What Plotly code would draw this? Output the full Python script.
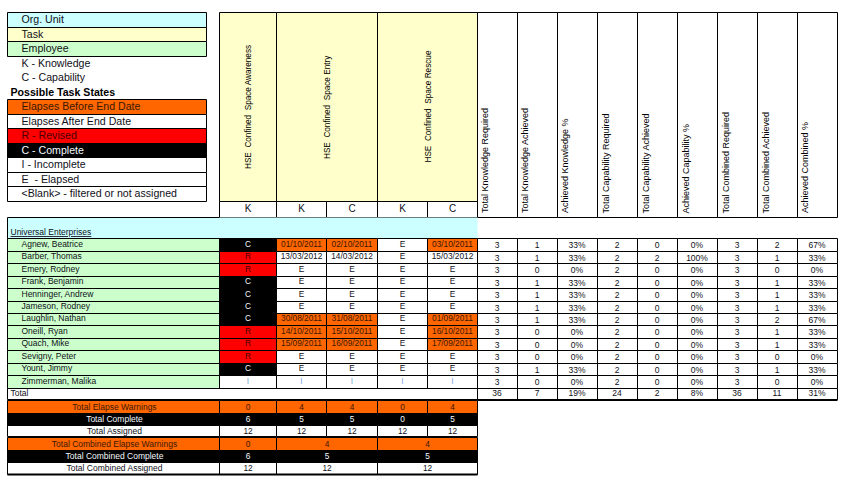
import plotly.graph_objects as go

# ---------- data ----------
org_unit = "Universal Enterprises"
employees = ["Agnew, Beatrice", "Barber, Thomas", "Emery, Rodney", "Frank, Benjamin", "Henninger, Andrew",
             "Jameson, Rodney", "Laughlin, Nathan", "Oneill, Ryan", "Quach, Mike", "Sevigny, Peter",
             "Yount, Jimmy", "Zimmerman, Malika"]
tasks = ["HSE  Confined  Space Awareness", "HSE  Confined  Space Entry", "HSE  Confined  Space Rescue"]
sub_headers = ["K", "K", "C", "K", "C"]
awareness_k = ["C", "R", "R", "C", "C", "C", "C", "R", "R", "R", "C", "I"]
entry_k = ["01/10/2011", "13/03/2012", "E", "E", "E", "E", "30/08/2011", "14/10/2011", "15/09/2011", "E", "E", "I"]
entry_c = ["02/10/2011", "14/03/2012", "E", "E", "E", "E", "31/08/2011", "15/10/2011", "16/09/2011", "E", "E", "I"]
rescue_k = ["E", "E", "E", "E", "E", "E", "E", "E", "E", "E", "E", "I"]
rescue_c = ["03/10/2011", "15/03/2012", "E", "E", "E", "E", "01/09/2011", "16/10/2011", "17/09/2011", "E", "E", "I"]
date_warning_employees = ["Agnew, Beatrice", "Laughlin, Nathan", "Oneill, Ryan", "Quach, Mike"]

metric_headers = ["Total Knowledge Required", "Total Knowledge Achieved", "Achieved Knowledge %",
                  "Total Capability Required", "Total Capability Achieved", "Achieved Capability %",
                  "Total Combined Required", "Total Combined Achieved", "Achieved Combined %"]
know_req = [3] * 12
know_ach = [1, 1, 0, 1, 1, 1, 1, 0, 0, 0, 1, 0]
know_pct = ["33%", "33%", "0%", "33%", "33%", "33%", "33%", "0%", "0%", "0%", "33%", "0%"]
cap_req = [2] * 12
cap_ach = [0, 2, 0, 0, 0, 0, 0, 0, 0, 0, 0, 0]
cap_pct = ["0%", "100%", "0%", "0%", "0%", "0%", "0%", "0%", "0%", "0%", "0%", "0%"]
comb_req = [3] * 12
comb_ach = [2, 1, 0, 1, 1, 1, 2, 1, 1, 0, 1, 0]
comb_pct = ["67%", "33%", "0%", "33%", "33%", "33%", "67%", "33%", "33%", "0%", "33%", "0%"]
metric_totals = [36, 7, "19%", 24, 2, "8%", 36, 11, "31%"]

summary_labels = ["Total Elapse Warnings", "Total Complete", "Total Assigned"]
elapse_warnings = [0, 4, 4, 0, 4]
total_complete = [6, 5, 5, 0, 5]
total_assigned = [12, 12, 12, 12, 12]
combined_labels = ["Total Combined Elapse Warnings", "Total Combined Complete", "Total Combined Assigned"]
combined_warnings = [0, 4, 4]
combined_complete = [6, 5, 5]
combined_assigned = [12, 12, 12]

legend_top = ["Org. Unit", "Task", "Employee"]
legend_codes = ["K - Knowledge", "C - Capability"]
legend_title = "Possible Task States"
legend_states = ["Elapses Before End Date", "Elapses After End Date", "R - Revised", "C - Complete",
                 "I - Incomplete", "E  - Elapsed", "<Blank> - filtered or not assigned"]

# ---------- page grid and colours ----------
CYAN, YELLOW, GREEN, ORANGE, RED, BLACK, WHITE = "#CCFFFF", "#FFFFCC", "#CCFFCC", "#FF6600", "#FF0000", "#000000", "#FFFFFF"
ON_DARK = "#F4F8FF"
ON_RED = "#4A0000"
ON_ORANGE = "#3A1800"
INK = "#101018"

LEFT = 7.5
label_right = 219.5
task_cols = [219.5, 276.5, 326.5, 377.5, 427.5, 477.5]
metric_cols = [477.5, 517.5, 557.5, 597.5, 637.5, 677.5, 717.5, 757.5, 797.5, 837.5]
row_edges = [238.5, 251.5, 263.5, 276.5, 288.5, 301.5, 313.5, 325.5, 338.5, 350.5, 363.5, 375.5, 388.5]

shapes = []
groups = {}


def rect(x0, y0, x1, y1, fill=None, width=1.0, line=True):
    shapes.append(dict(type="rect", xref="x", yref="y", x0=x0, y0=y0, x1=x1, y1=y1,
                       fillcolor=fill if fill else "rgba(0,0,0,0)",
                       line=dict(color=BLACK, width=width if line else 0), layer="below"))


def label(x, y, s, size=8, color=INK, pos="middle center", bold=False, under=False):
    key = (size, color, pos, bold, under)
    g = groups.setdefault(key, dict(x=[], y=[], t=[]))
    g["x"].append(x)
    g["y"].append(y)
    g["t"].append(str(s))


# legend, first block
top_edges = [12.5, 27.5, 41.5, 56.5]
for i, (t, f) in enumerate(zip(legend_top, [CYAN, YELLOW, GREEN])):
    rect(LEFT, top_edges[i], 206.5, top_edges[i + 1], f)
    label(21.5, (top_edges[i] + top_edges[i + 1]) / 2 + 0.5, t, 10.6, pos="middle right")
for y, t in zip([64, 78], legend_codes):
    label(21.5, y, t, 10.6, pos="middle right")
label(10.5, 93, legend_title, 10.6, "#000000", "middle right", bold=True)

# legend, states block
state_edges = [99.5, 114.5, 128.5, 143.5, 157.5, 172.5, 186.5, 201.5]
state_fill = [ORANGE, WHITE, RED, BLACK, WHITE, WHITE, WHITE]
state_ink = [ON_ORANGE, INK, ON_RED, ON_DARK, INK, INK, INK]
for i, t in enumerate(legend_states):
    rect(LEFT, state_edges[i], 206.5, state_edges[i + 1], state_fill[i])
    label(21.5, (state_edges[i] + state_edges[i + 1]) / 2 + 0.5, t, 10.6, state_ink[i], "middle right")

# task headers
HEAD_TOP, HEAD_MID, HEAD_BOTTOM = 12.5, 201.5, 217.5
annotations = []
spans = [(0, 1), (1, 3), (3, 5)]
for (a, b), t in zip(spans, tasks):
    rect(task_cols[a], HEAD_TOP, task_cols[b], HEAD_MID, YELLOW)
    annotations.append(dict(x=(task_cols[a] + task_cols[b]) / 2, y=107, text=t, textangle=-90, showarrow=False,
                            xref="x", yref="y", font=dict(family="Liberation Sans", size=8.2, color="#000000")))
for i, t in enumerate(sub_headers):
    rect(task_cols[i], HEAD_MID, task_cols[i + 1], HEAD_BOTTOM, WHITE)
    label((task_cols[i] + task_cols[i + 1]) / 2, 209.5, t, 10, INK)

# metric headers
for i, t in enumerate(metric_headers):
    rect(metric_cols[i], HEAD_TOP, metric_cols[i + 1], HEAD_BOTTOM, WHITE)
    annotations.append(dict(x=metric_cols[i] + 7.5, y=215.5, text=t, textangle=-90, showarrow=False,
                            xanchor="center", yanchor="bottom", xref="x", yref="y",
                            font=dict(family="Liberation Sans", size=9, color="#000000")))

# organisation row
rect(LEFT, HEAD_BOTTOM, 477.5, row_edges[0], CYAN, line=False)
shapes.append(dict(type="line", xref="x", yref="y", x0=LEFT, x1=LEFT, y0=HEAD_BOTTOM, y1=row_edges[0],
                   line=dict(color=BLACK, width=1)))
shapes.append(dict(type="line", xref="x", yref="y", x0=LEFT, x1=219.5, y0=HEAD_BOTTOM, y1=HEAD_BOTTOM,
                   line=dict(color=BLACK, width=1)))
label(10.5, 233, org_unit, 8.5, INK, "middle right", under=True)

# employee rows
task_states = [awareness_k, entry_k, entry_c, rescue_k, rescue_c]
metrics = [know_req, know_ach, know_pct, cap_req, cap_ach, cap_pct, comb_req, comb_ach, comb_pct]
for r, name in enumerate(employees):
    y0, y1 = row_edges[r], row_edges[r + 1]
    ym = (y0 + y1) / 2 - 0.5
    rect(LEFT, y0, label_right, y1, GREEN)
    label(21.5, ym, name, 8.5, INK, "middle right")
    for c, col in enumerate(task_states):
        v = col[r]
        fill, ink = WHITE, INK
        if v == "C":
            fill, ink = BLACK, ON_DARK
        elif v == "R":
            fill, ink = RED, ON_RED
        elif v == "I":
            ink = "#7FA8DC"
        elif "/" in v and name in date_warning_employees:
            fill, ink = ORANGE, ON_ORANGE
        rect(task_cols[c], y0, task_cols[c + 1], y1, fill)
        label((task_cols[c] + task_cols[c + 1]) / 2, ym, v, 8.3, ink)
    for c, col in enumerate(metrics):
        rect(metric_cols[c], y0, metric_cols[c + 1], y1, WHITE)
        label((metric_cols[c] + metric_cols[c + 1]) / 2 - 0.5, ym + 1.5, col[r], 8.5, INK)

# total row
TOTAL_BOTTOM = 399.5
rect(LEFT, row_edges[-1], 477.5, TOTAL_BOTTOM, WHITE)
label(10.5, 393.5, "Total", 8.5, INK, "middle right")
for c, v in enumerate(metric_totals):
    rect(metric_cols[c], row_edges[-1], metric_cols[c + 1], TOTAL_BOTTOM, WHITE)
    label((metric_cols[c] + metric_cols[c + 1]) / 2 - 0.5, 393.5, v, 8.5, INK)
shapes.append(dict(type="line", xref="x", yref="y", x0=477.5, x1=837.5, y0=TOTAL_BOTTOM + 0.5, y1=TOTAL_BOTTOM + 0.5,
                   line=dict(color=BLACK, width=2)))


# summary blocks
def summary(edges, labels, value_rows, cols):
    fills = [ORANGE, BLACK, WHITE]
    inks = [ON_ORANGE, ON_DARK, INK]
    for i in range(3):
        y0, y1 = edges[i], edges[i + 1]
        ym = (y0 + y1) / 2 + 0.5
        rect(LEFT, y0, label_right, y1, fills[i])
        label((LEFT + label_right) / 2 + 1, ym, labels[i], 8.5, inks[i])
        for c, v in enumerate(value_rows[i]):
            rect(cols[c], y0, cols[c + 1], y1, fills[i])
            label((cols[c] + cols[c + 1]) / 2, ym, v, 8.3, inks[i])


summary([400.5, 413.5, 425.5, 436.5], summary_labels,
        [elapse_warnings, total_complete, total_assigned], task_cols)
summary([437.5, 450.5, 462.5, 474.5], combined_labels,
        [combined_warnings, combined_complete, combined_assigned], [219.5, 276.5, 377.5, 477.5])
shapes.append(dict(type="line", xref="x", yref="y", x0=LEFT, x1=477.5, y0=474.5, y1=474.5,
                   line=dict(color=BLACK, width=2)))

# ---------- figure ----------
fig = go.Figure()
for (size, color, pos, bold, under), g in groups.items():
    fig.add_trace(go.Scatter(
        x=g["x"], y=g["y"], text=g["t"], mode="text", textposition=pos, hoverinfo="skip", showlegend=False,
        textfont=dict(family="Liberation Sans", size=size, color=color, weight="bold" if bold else "normal",
                      lineposition="under" if under else "none")))
fig.update_layout(
    width=850, height=491, margin=dict(l=0, r=0, t=0, b=0), paper_bgcolor=WHITE, plot_bgcolor=WHITE,
    showlegend=False, shapes=shapes, annotations=annotations,
    xaxis=dict(range=[0, 850], visible=False, fixedrange=True),
    yaxis=dict(range=[491, 0], visible=False, fixedrange=True),
)
fig.write_html("out.html", config=dict(displayModeBar=False),
               post_script="document.body.style.margin='0';document.documentElement.style.overflow='hidden';")
